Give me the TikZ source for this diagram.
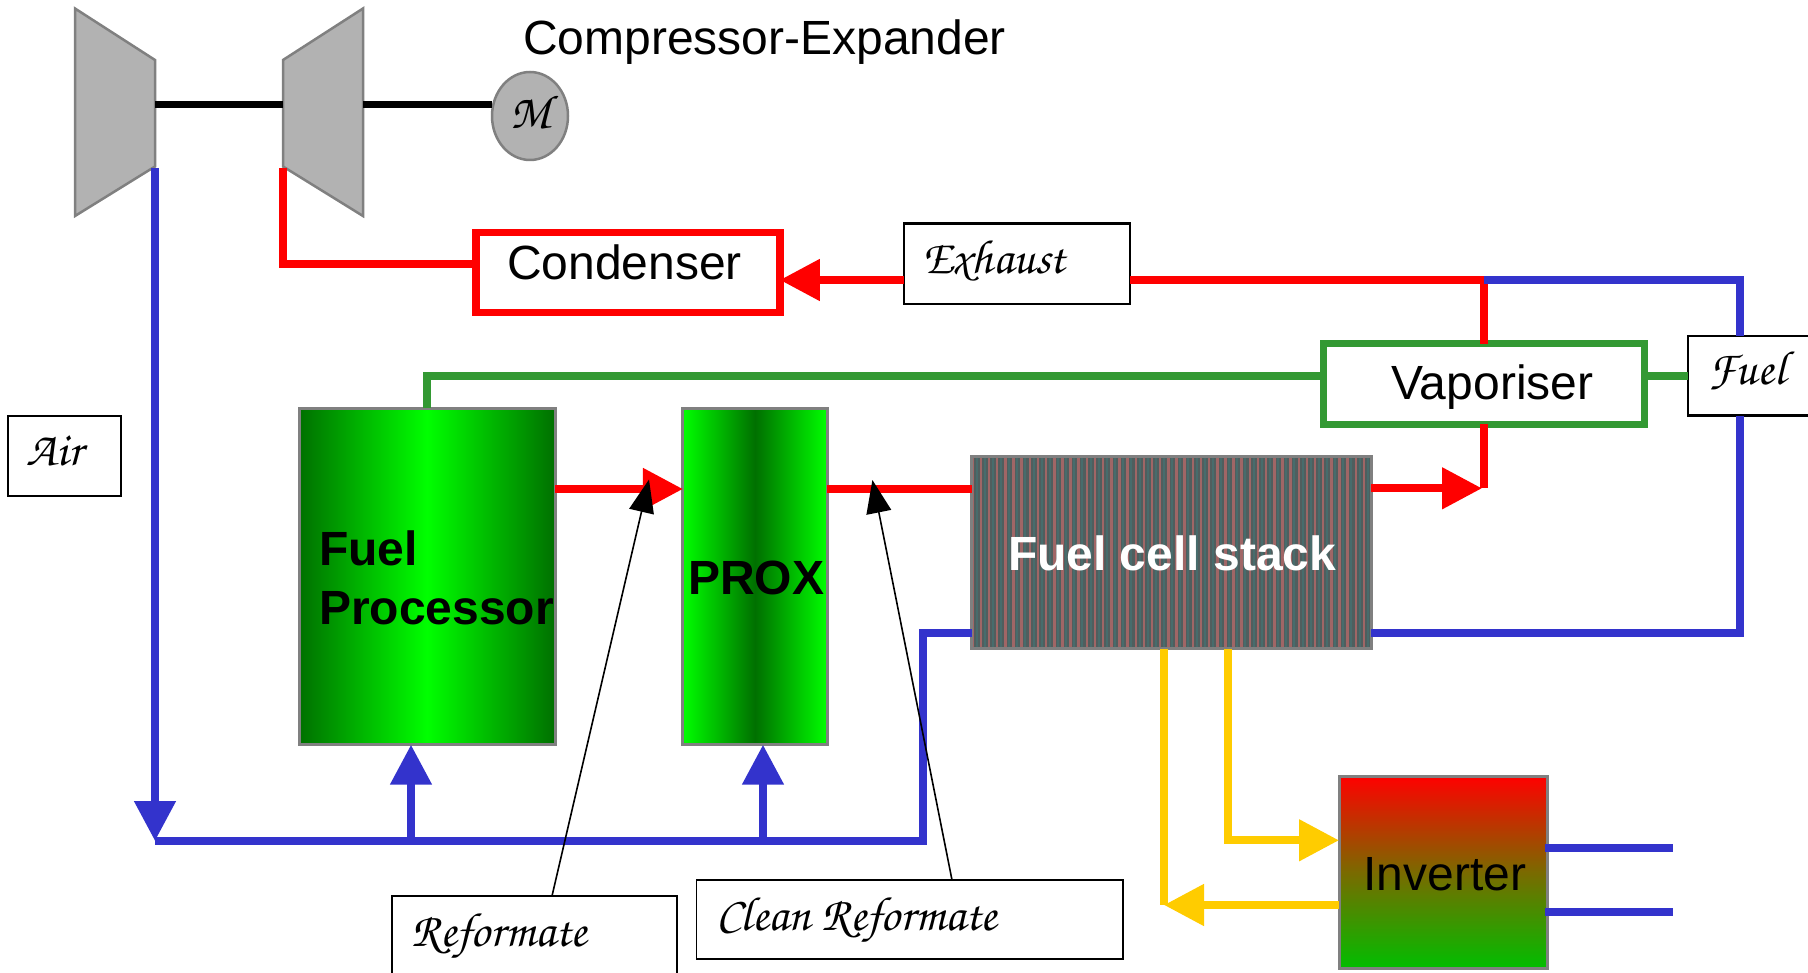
\documentclass[tikz,border=0pt]{standalone}
\usepackage{fontspec}
\setmainfont{Liberation Sans}
\newfontfamily\chanc{TeX Gyre Chorus}
\usetikzlibrary{arrows.meta,shapes.geometric}
\definecolor{fcblue}{RGB}{51,51,204}
\definecolor{fcred}{RGB}{255,0,0}
\definecolor{fcgreen}{RGB}{51,153,51}
\definecolor{fcyellow}{RGB}{255,204,0}
\definecolor{fcgray}{RGB}{128,128,128}
\definecolor{fcfill}{RGB}{178,178,178}
\definecolor{dkgreen}{RGB}{0,112,0}
\definecolor{brgreen}{RGB}{0,255,0}
\definecolor{invgreen}{RGB}{0,190,0}
\definecolor{invmid}{RGB}{122,106,0}
\definecolor{stackbase}{RGB}{80,94,94}
\definecolor{stackred}{RGB}{160,102,102}
\definecolor{stackteal}{RGB}{72,108,108}
\tikzset{
  boxed/.style={rectangle,inner sep=0pt,outer sep=0pt},
  plain/.style={boxed,draw=black,line width=2.4pt,fill=white},
  unit/.style={boxed,draw=fcgray,line width=3pt},
  txt/.style={inner sep=0pt,outer sep=0pt,anchor=base west,font=\fontsize{48}{52}\selectfont},
  btxt/.style={txt,font=\fontsize{48}{56}\selectfont\bfseries},
  script/.style={inner sep=0pt,outer sep=0pt,anchor=base west,font=\fontsize{48}{52}\selectfont\chanc\itshape},
  pipe/.style={line width=8pt},
  redpipe/.style={pipe,draw=fcred},
  bluepipe/.style={pipe,draw=fcblue},
  greenpipe/.style={pipe,draw=fcgreen},
  yellowpipe/.style={pipe,draw=fcyellow},
  bigtip/.style={-{Triangle[length=40pt,width=40pt]}},
  leader/.style={draw=black,line width=1.6pt,-{Triangle[length=33pt,width=25pt]}},
  casing/.style={draw=fcgray,line width=2.5pt,fill=fcfill,line join=miter},
}
\begin{document}
\begin{tikzpicture}[x=1pt,y=-1pt]
\clip (0,0) rectangle (1808,973);
\fill[white] (0,0) rectangle (1808,973);
% compressor / expander
\draw[casing] (75,8.5) -- (155,60) -- (155,166.5) -- (75,216) -- cycle;
\draw[casing] (363,8.5) -- (283,60) -- (283,166.5) -- (363,216) -- cycle;
\coordinate (compR) at (155,104.3);
\coordinate (expL) at (283,104.3);
\coordinate (expR) at (363,104.3);
\coordinate (compB) at (155,168);
\coordinate (expB) at (283,168);
\node[ellipse,draw=fcgray,line width=2.5pt,fill=fcfill,minimum width=76pt,minimum height=88pt,inner sep=0pt,outer sep=0pt] (motor) at (530,116) {};
\node[script,font=\fontsize{48}{52}\selectfont\chanc\itshape] (motorT) at (510,129) {M};
\draw[black,line width=7.5pt] (compR) -- (expL);
\draw[black,line width=7.5pt] (expR) -- (expR -| motor.west);
\node[txt] (compT) at (523,55) {Compressor-Expander};
% boxes
\node[boxed,draw=fcred,line width=7.5pt,fill=white,minimum width=304pt,minimum height=80pt] (cond) at (627.85,272.3) {};
\node[boxed,draw=fcgreen,line width=7pt,fill=white,minimum width=321pt,minimum height=80.3pt] (vap) at (1483.5,384.15) {};
\node[plain,minimum width=226pt,minimum height=80.6pt] (exh) at (1017,264) {};
\node[plain,minimum width=113pt,minimum height=80pt] (air) at (64.5,456) {};
\node[plain,minimum width=124pt,minimum height=79.7pt] (fuel) at (1750,375.85) {};
\node[plain,line width=1.8pt,minimum width=284.6pt,minimum height=104pt] (ref) at (534.3,948) {};
\node[plain,line width=1.8pt,minimum width=426.5pt,minimum height=79pt] (clean) at (909.75,919.5) {};
\node[unit,left color=dkgreen,right color=dkgreen,middle color=brgreen,minimum width=256pt,minimum height=336.4pt] (fp) at (427,576.5) {};
\node[unit,left color=brgreen,right color=brgreen,middle color=dkgreen,minimum width=144.5pt,minimum height=336.4pt] (prox) at (755.2,576.5) {};
\node[boxed,fill=stackbase,minimum width=399.5pt,minimum height=192pt] (fc) at (1171.5,552.5) {};
\begin{scope}
\clip (fc.north west) rectangle (fc.south east);
\foreach \i in {0,...,49}{
  \fill[stackred] ({971.5+8.15*\i},456) rectangle ({974+8.15*\i},649);
  \fill[stackteal] ({975.5+8.15*\i},456) rectangle ({977.5+8.15*\i},649);
}
\end{scope}
\draw[fcgray,line width=3pt] (fc.north west) rectangle (fc.south east);
\node[unit,top color=fcred,bottom color=invgreen,middle color=invmid,minimum width=208.5pt,minimum height=192.7pt] (inv) at (1443.25,872.35) {};
% junctions
\coordinate (redJ) at (1484,280);
\coordinate (blueC) at (1740,280);
\coordinate (redL) at (1484,488.3);
\coordinate (blueBus) at (155,841);
\coordinate (busR) at (923,841);
\coordinate (fpAir) at (411,841);
\coordinate (proxAir) at (763,841);
\coordinate (flowA) at (0,489);
\coordinate (blueB) at (0,633);
\coordinate (yL) at (1164,0);
\coordinate (yR) at (1228,0);
\coordinate (invIn) at (0,840.3);
\coordinate (invOut) at (0,905);
\coordinate (out1) at (1673,848.3);
\coordinate (out2) at (1673,912.3);
\coordinate (gy) at (0,376);
\coordinate (exhy) at (0,280);
\coordinate (condy) at (0,263.7);
% red
\draw[redpipe,line join=miter] (expB) -- (expB |- condy) -- (cond.west |- condy);
\draw[redpipe,bigtip] (exh.west |- exhy) -- (cond.east |- exhy);
\draw[redpipe] (exh.east |- exhy) -- (redJ) -- (redJ |- vap.north);
\draw[redpipe,bigtip] (fp.east |- flowA) -- (prox.west |- flowA);
\draw[redpipe] (prox.east |- flowA) -- (fc.west |- flowA);
\draw[redpipe] (redJ |- vap.south) -- (redL);
\draw[redpipe,bigtip] (fc.east |- redL) -- ([xshift=-2pt]redL);
% green
\draw[greenpipe,line join=miter] (fp.north) -- (fp.north |- gy) -- (vap.west |- gy);
\draw[greenpipe] (vap.east |- gy) -- (fuel.west |- gy);
% blue
\draw[bluepipe,bigtip] (compB) -- (blueBus);
\draw[bluepipe] (blueBus) -- (busR) -- (busR |- blueB) -- (fc.west |- blueB);
\draw[bluepipe,bigtip] (fpAir) -- (fpAir |- fp.south);
\draw[bluepipe,bigtip] (proxAir) -- (proxAir |- prox.south);
\draw[bluepipe] (fc.east |- blueB) -- (blueC |- blueB) -- (blueC |- fuel.south);
\draw[bluepipe] (fuel.north -| blueC) -- (blueC) -- (redJ);
\draw[bluepipe] ([xshift=-3pt]inv.east |- out1) -- (out1);
\draw[bluepipe] ([xshift=-3pt]inv.east |- out2) -- (out2);
% yellow
\draw[yellowpipe,line join=miter,bigtip] (yR |- fc.south) -- (yR |- invIn) -- (inv.west |- invIn);
\draw[yellowpipe] (yL |- fc.south) -- (yL |- invOut);
\draw[yellowpipe,bigtip] (inv.west |- invOut) -- (yL |- invOut);
% labels
\node[txt] (condT) at (507,280) {Condenser};
\node[txt] (vapT) at (1391.5,400) {Vaporiser};
\node[txt] (invT) at (1363.5,890) {Inverter};
\node[btxt] (fpT1) at (319,565) {Fuel};
\node[btxt] (fpT2) at (319,624.3) {Processor};
\node[btxt] (proxT) at (688,594) {PROX};
\node[btxt,text=white] (fcT) at (1008,570) {Fuel cell stack};
\node[script] (exhT) at (922,274) {Exhaust};
\node[script] (airT) at (27,465) {Air};
\node[script] (fuelT) at (1708,385) {Fuel};
\node[script] (refT) at (411.5,946) {Reformate};
\node[script] (cleanT) at (716,930) {Clean Reformate};
% leaders
\coordinate (tipA) at (649,479.5);
\coordinate (tipB) at (872.4,480);
\draw[leader] ([xshift=17.7pt]ref.north) -- (tipA);
\draw[leader] ([xshift=42.25pt]clean.north) -- (tipB);
\end{tikzpicture}
\end{document}
